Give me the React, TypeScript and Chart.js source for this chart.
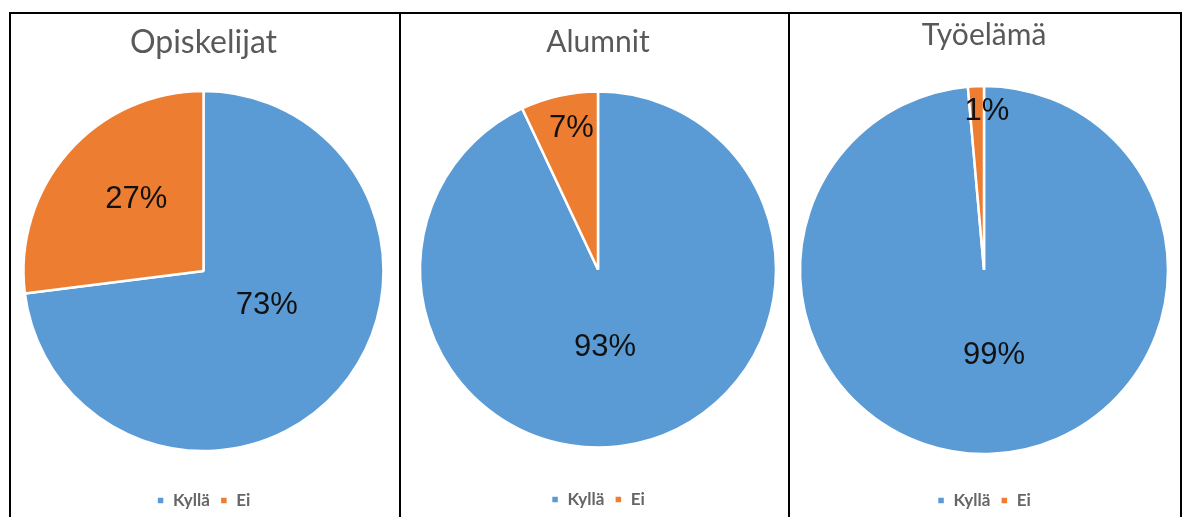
import React, { useEffect, useRef } from 'react';
import { Chart, registerables } from 'chart.js';

Chart.register(...registerables);

// ---- data ----
const legendLabels = ['Kyllä', 'Ei'];
const sliceColors = ['#5B9BD5', '#ED7D31'];
const panelTitles = ['Opiskelijat', 'Alumnit', 'Työelämä'];
const opiskelijatValues = [73, 27];
const alumnitValues = [93, 7];
const tyoelamaValues = [98.6, 1.4];

type PanelCfg = {
  title: string;
  titleSize: number;
  values: number[];
  left: number;
  width: number;
  radius: number;
  pad: { left: number; right: number; top: number; bottom: number };
  titlePad: { top: number; bottom: number };
  labelPos: number[][]; // [radial fraction, angle shift in degrees]
};

const panels: PanelCfg[] = [
  {
    title: panelTitles[0],
    titleSize: 32,
    values: opiskelijatValues,
    left: 11,
    width: 388,
    radius: 180,
    pad: { left: 0, right: 3, top: 0, bottom: 1 },
    titlePad: { top: 12.5, bottom: 1.5 },
    labelPos: [[0.4, -13], [0.545, 5.3]],
  },
  {
    title: panelTitles[1],
    titleSize: 30,
    values: alumnitValues,
    left: 401,
    width: 387,
    radius: 178,
    pad: { left: 7, right: 0, top: 0, bottom: 2 },
    titlePad: { top: 13.5, bottom: 0.5 },
    labelPos: [[0.437, 7.4], [0.805, 1.9]],
  },
  {
    title: panelTitles[2],
    titleSize: 30,
    values: tyoelamaValues,
    left: 790,
    width: 390,
    radius: 184,
    pad: { left: 0, right: 2, top: 0, bottom: 1 },
    titlePad: { top: 6, bottom: 8 },
    labelPos: [[0.468, -4.2], [0.863, 3.6]],
  },
];

const PANEL_TOP = 14;
const PANEL_HEIGHT = 506;

function makeLabelPlugin(cfg: PanelCfg) {
  return {
    id: 'pctLabels',
    afterDatasetsDraw(chart: any) {
      const ctx = chart.ctx;
      const meta = chart.getDatasetMeta(0);
      ctx.save();
      ctx.font = '31px "Liberation Sans", Arial, sans-serif';
      ctx.fillStyle = '#111111';
      ctx.textAlign = 'center';
      ctx.textBaseline = 'middle';
      meta.data.forEach((arc: any, i: number) => {
        const p = arc.getProps(['x', 'y', 'startAngle', 'endAngle', 'outerRadius'], true);
        const [frac, shift] = cfg.labelPos[i];
        const mid = (p.startAngle + p.endAngle) / 2 + (shift * Math.PI) / 180;
        const r = p.outerRadius * frac;
        const text = Math.round(cfg.values[i]) + '%';
        ctx.fillText(text, p.x + Math.cos(mid) * r, p.y + Math.sin(mid) * r);
      });
      ctx.restore();
    },
  };
}

function PiePanel({ cfg }: { cfg: PanelCfg }) {
  const ref = useRef<HTMLCanvasElement | null>(null);
  useEffect(() => {
    if (!ref.current) return;
    const chart = new Chart(ref.current, {
      type: 'pie',
      data: {
        labels: legendLabels,
        datasets: [
          {
            data: cfg.values,
            backgroundColor: sliceColors,
            borderColor: '#ffffff',
            borderWidth: 2.5,
          },
        ],
      },
      options: {
        animation: false,
        responsive: true,
        maintainAspectRatio: false,
        events: [],
        radius: cfg.radius,
        layout: { padding: cfg.pad },
        plugins: {
          tooltip: { enabled: false },
          title: {
            display: true,
            text: cfg.title,
            color: '#595959',
            font: { family: 'Lato, "Open Sans", sans-serif', size: cfg.titleSize, weight: 'normal', lineHeight: 1 },
            padding: cfg.titlePad,
          },
          legend: {
            display: true,
            position: 'bottom',
            labels: {
              color: '#666666',
              boxWidth: 8,
              boxHeight: 8,
              padding: 10,
              font: { family: 'Lato, "Open Sans", sans-serif', size: 17, weight: 'bold' },
            },
          },
        },
      } as any,
      plugins: [makeLabelPlugin(cfg)],
    });
    return () => chart.destroy();
  }, [cfg]);
  return (
    <div
      style={{
        position: 'absolute',
        left: cfg.left,
        top: PANEL_TOP,
        width: cfg.width,
        height: PANEL_HEIGHT,
        background: '#ffffff',
      }}
    >
      <canvas ref={ref} />
    </div>
  );
}

const lineStyle = (left: number, top: number, width: number, height: number): React.CSSProperties => ({
  position: 'absolute',
  left,
  top,
  width,
  height,
  background: '#000000',
});

export default function App() {
  useEffect(() => {
    document.body.style.overflow = 'hidden';
  }, []);
  return (
    <div>
      {panels.map((p, i) => (
        <PiePanel key={i} cfg={p} />
      ))}
      <div style={lineStyle(9, 12, 1173, 2)} />
      <div style={lineStyle(9, 12, 2, 505)} />
      <div style={lineStyle(399, 12, 2, 505)} />
      <div style={lineStyle(788, 12, 2, 505)} />
      <div style={lineStyle(1180, 12, 2, 505)} />
    </div>
  );
}
